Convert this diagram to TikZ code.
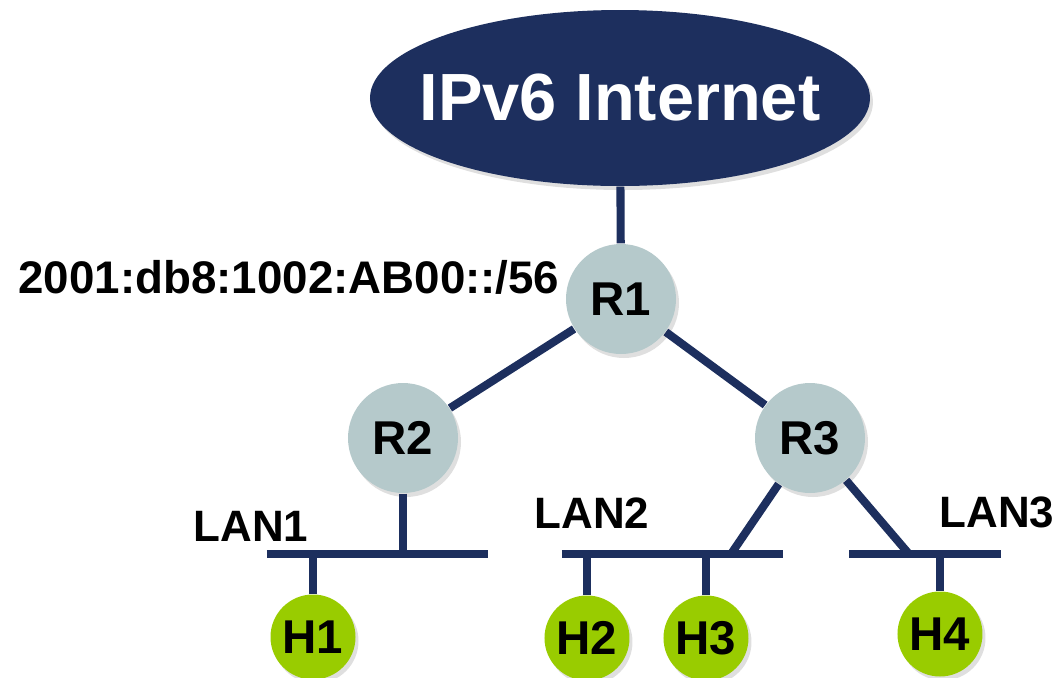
\documentclass[tikz,border=0pt]{standalone}
\usepackage{fontspec}
\setmainfont{Liberation Sans}
\usetikzlibrary{shapes.geometric, shadows, positioning}
\definecolor{netnavy}{RGB}{29,47,94}
\definecolor{routergray}{RGB}{181,201,203}
\definecolor{hostgreen}{RGB}{153,204,0}

\begin{document}
\begin{tikzpicture}[line join=round,
    link/.style={draw=netnavy, line width=2.3pt},
    bus/.style={draw=netnavy, line width=2.3pt},
    softshadow/.style={drop shadow={opacity=0.25, shadow xshift=0.03cm, shadow yshift=-0.04cm}},
    router/.style={circle, fill=routergray, minimum size=1.10cm, inner sep=0pt, softshadow,
      font=\fontsize{13.5}{16}\selectfont\bfseries},
    host/.style={circle, fill=hostgreen, minimum size=0.85cm, inner sep=0pt, softshadow,
      font=\fontsize{13.5}{16}\selectfont\bfseries},
    lanlabel/.style={font=\fontsize{12.5}{15}\selectfont\bfseries}]
    \useasboundingbox (0,0) rectangle (10.64,6.77);
    % cloud and routers
    \node[ellipse, fill=netnavy, minimum width=5.0cm, minimum height=1.76cm, inner sep=0pt, softshadow,
      text=white, font=\fontsize{19}{22}\selectfont\bfseries] (inet) at (6.20,5.79) {\makebox[0pt]{IPv6 Internet}};
    \node[router] (R1) at (6.21,3.78) {R1};
    \node[router] (R2) at (4.03,2.39) {R2};
    \node[router] (R3) at (8.10,2.39) {R3};
    \node[font=\fontsize{13}{16}\selectfont\bfseries] (prefix) at (2.89,4.00) {2001:db8:1002:AB00::/56};
    % LAN segments
    \coordinate (lan1a) at (2.67,1.23);
    \coordinate (lan1b) at (4.88,1.23);
    \coordinate (lan2a) at (5.62,1.23);
    \coordinate (lan2b) at (7.83,1.23);
    \coordinate (lan3a) at (8.49,1.23);
    \coordinate (lan3b) at (10.01,1.23);
    \coordinate (lan2r) at (7.31,1.23);
    \coordinate (lan3r) at (9.09,1.23);
    \draw[bus] (lan1a) -- (lan1b) (lan2a) -- (lan2b) (lan3a) -- (lan3b);
    \node[lanlabel] (LAN1) at (2.51,1.51) {LAN1};
    \node[lanlabel] (LAN2) at (5.92,1.64) {LAN2};
    \node[lanlabel] (LAN3) at (9.97,1.65) {LAN3};
    % hosts
    \node[host] (H1) at (3.13,0.40) {H1};
    \node[host] (H2) at (5.87,0.39) {H2};
    \node[host] (H3) at (7.06,0.39) {H3};
    \node[host] (H4) at (9.40,0.43) {H4};
    % links
    \draw[link] (inet) -- (R1);
    \draw[link] (R1) -- (R2) (R1) -- (R3);
    \draw[link] (R2) -- (R2 |- lan1a);
    \draw[link] (R3) -- (lan2r) (R3) -- (lan3r);
    \foreach \h/\lan in {H1/lan1a,H2/lan2a,H3/lan2a,H4/lan3a} {
      \draw[link] (\h) -- (\h |- \lan);
    }
  \end{tikzpicture}
\end{document}
